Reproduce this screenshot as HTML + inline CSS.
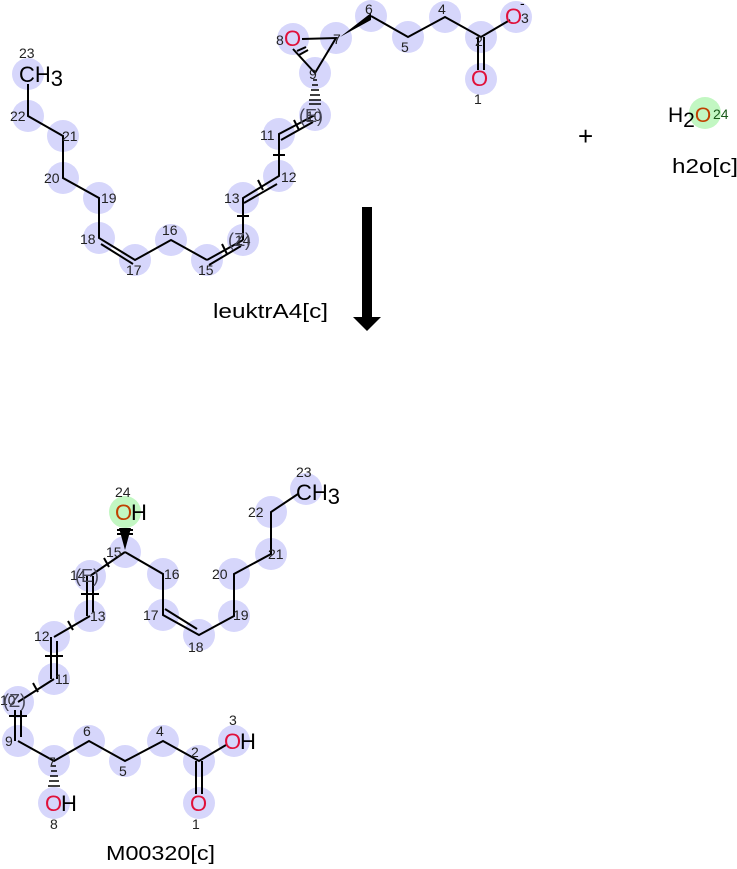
<!DOCTYPE html>
<html><head><meta charset="utf-8"><style>
body{margin:0;background:#fff;width:737px;height:864px;overflow:hidden}
svg text{font-family:"Liberation Sans",sans-serif}
.n{font-size:14px;fill:#222}
.a{font-size:22px}
</style></head><body>
<svg width="737" height="864" viewBox="0 0 737 864" xmlns="http://www.w3.org/2000/svg">
<g fill="#d6d6fb">
<circle cx="371" cy="16" r="16"/><circle cx="336" cy="38" r="16"/><circle cx="293" cy="39" r="16"/>
<circle cx="315" cy="73" r="16"/><circle cx="315" cy="115" r="16"/><circle cx="279" cy="134" r="16"/>
<circle cx="279" cy="176" r="16"/><circle cx="243" cy="198" r="16"/><circle cx="243" cy="240" r="16"/>
<circle cx="207" cy="260" r="16"/><circle cx="171" cy="240" r="16"/><circle cx="135" cy="260" r="16"/>
<circle cx="99" cy="238" r="16"/><circle cx="99" cy="198" r="16"/><circle cx="63" cy="178" r="16"/>
<circle cx="63" cy="136" r="16"/><circle cx="28" cy="116" r="16"/><circle cx="28" cy="74" r="16"/>
<circle cx="408" cy="37" r="16"/><circle cx="445" cy="17" r="16"/><circle cx="481" cy="37" r="16"/>
<circle cx="481" cy="79" r="16"/><circle cx="516" cy="17" r="16"/>
<circle cx="125" cy="552" r="16"/><circle cx="90" cy="576" r="16"/><circle cx="90" cy="616" r="16"/>
<circle cx="54" cy="637" r="16"/><circle cx="54" cy="679" r="16"/><circle cx="18" cy="702" r="16"/>
<circle cx="18" cy="741" r="16"/><circle cx="54" cy="761" r="16"/><circle cx="54" cy="803" r="16"/>
<circle cx="89" cy="741" r="16"/><circle cx="125" cy="761" r="16"/><circle cx="163" cy="741" r="16"/>
<circle cx="199" cy="761" r="16"/><circle cx="199" cy="803" r="16"/><circle cx="234" cy="741" r="16"/>
<circle cx="163" cy="574" r="16"/><circle cx="163" cy="615" r="16"/><circle cx="199" cy="635" r="16"/>
<circle cx="234" cy="616" r="16"/><circle cx="234" cy="574" r="16"/><circle cx="271" cy="554" r="16"/>
<circle cx="271" cy="512" r="16"/><circle cx="306" cy="489" r="16"/>
</g>
<g fill="#c2f7c2"><circle cx="125" cy="512" r="16"/><circle cx="705" cy="113" r="16"/></g>

<g stroke="#000" stroke-width="2" fill="none">
<polyline points="28,84 28,116 63,136 63,178 99,198 99,238 135,260 171,240 207,260"/>
<line x1="101" y1="244" x2="133" y2="264"/>
<line x1="207" y1="260" x2="243" y2="240"/><line x1="209" y1="265" x2="241" y2="246"/>
<polyline points="243,240 243,198 279,176 279,134 315,115"/>
<line x1="244" y1="203" x2="277" y2="184"/><line x1="281" y1="140" x2="313" y2="122"/>
<polyline points="302,39 336,38 315,73 293,49"/>
<polyline points="371,16 408,37 445,17 481,37 510,20"/>
<line x1="478" y1="37" x2="478" y2="70"/><line x1="484" y1="37" x2="484" y2="70"/>
<line x1="237" y1="216" x2="249" y2="216"/><line x1="273" y1="155" x2="285" y2="155"/>
<line x1="222" y1="244" x2="227" y2="254"/><line x1="258" y1="180" x2="263" y2="190"/><line x1="294" y1="120" x2="299" y2="130"/>
<line x1="297" y1="51" x2="306" y2="47"/><line x1="299" y1="55" x2="308" y2="50"/>
<polyline points="125,552 163,574 163,615 199,635 234,616 234,574 271,554 271,512 298,494"/>
<line x1="165" y1="609" x2="197" y2="629"/>
<polyline points="125,552 90,576"/>
<line x1="87" y1="576" x2="87" y2="616"/><line x1="93" y1="576" x2="93" y2="612"/>
<line x1="90" y1="616" x2="54" y2="637"/>
<line x1="51" y1="637" x2="51" y2="679"/><line x1="57" y1="641" x2="57" y2="679"/>
<line x1="54" y1="679" x2="18" y2="702"/>
<line x1="15" y1="710" x2="15" y2="741"/><line x1="21" y1="710" x2="21" y2="737"/>
<polyline points="18,741 54,761 89,741 125,761 163,741 199,761 226,745"/>
<line x1="196" y1="761" x2="196" y2="794"/><line x1="202" y1="761" x2="202" y2="794"/>
<line x1="81" y1="594" x2="99" y2="594"/><line x1="45" y1="656" x2="63" y2="656"/><line x1="9" y1="716" x2="27" y2="716"/>
<line x1="104" y1="558" x2="109" y2="567"/><line x1="68" y1="621" x2="73" y2="630"/><line x1="33" y1="683" x2="38" y2="692"/>
<line x1="117" y1="530" x2="133" y2="530"/><line x1="117" y1="534" x2="133" y2="534"/>
</g>
<polygon points="371,13 371,20 340,37" fill="#000"/>
<polygon points="119,528 131,528 125,550" fill="#000"/>
<g stroke="#000" stroke-width="1.5">
<line x1="313" y1="80" x2="317" y2="80"/><line x1="312" y1="85" x2="318" y2="85"/><line x1="311" y1="90" x2="319" y2="90"/><line x1="310" y1="95" x2="320" y2="95"/><line x1="309" y1="100" x2="321" y2="100"/><line x1="309" y1="104" x2="321" y2="104"/>
<line x1="52" y1="766" x2="56" y2="766"/><line x1="51" y1="771" x2="57" y2="771"/><line x1="50" y1="776" x2="58" y2="776"/><line x1="49" y1="781" x2="59" y2="781"/><line x1="48" y1="786" x2="60" y2="786"/>
</g>

<g class="a">
<text x="19" y="82" fill="#000">CH<tspan dy="4">3</tspan></text>
<text x="284" y="46" fill="#e0103a">O</text>
<text x="471" y="86" fill="#e0103a">O</text>
<text x="505" y="24" fill="#e0103a">O</text>
</g>
<g class="n">
<text x="19" y="58">23</text><text x="10" y="121">22</text><text x="62" y="141">21</text><text x="44" y="183">20</text>
<text x="101" y="203">19</text><text x="80" y="244">18</text><text x="126" y="275">17</text><text x="162" y="235">16</text>
<text x="198" y="275">15</text><text x="224" y="203">13</text><text x="281" y="182">12</text><text x="260" y="140">11</text>
<text x="306" y="121">10</text><text x="235" y="245">14</text><text x="276" y="45">8</text><text x="333" y="44">7</text>
<text x="365" y="14">6</text><text x="401" y="52">5</text><text x="438" y="14">4</text><text x="475" y="46">2</text>
<text x="474" y="104">1</text><text x="521" y="23">3</text><text x="309" y="79">9</text>
</g>
<text x="520" y="8" font-size="14">-</text>
<text x="228" y="246" font-size="18" fill="#445">(Z)</text>
<text x="299" y="122" font-size="18" fill="#445">(E)</text>

<rect x="362" y="207" width="10" height="111" fill="#000"/>
<polygon points="353,317 381,317 367,331" fill="#000"/>
<text x="213" y="318" font-size="20" textLength="115" lengthAdjust="spacingAndGlyphs">leuktrA4[c]</text>
<text x="578" y="145" font-size="26">+</text>

<text x="668" y="122" font-size="21">H<tspan dy="5">2</tspan><tspan dy="-5" fill="#c04000">O</tspan></text>
<text x="713" y="119" font-size="14" fill="#1a5a1a">24</text>
<text x="672" y="173" font-size="20" textLength="66" lengthAdjust="spacingAndGlyphs">h2o[c]</text>

<g class="a">
<text x="296" y="500" fill="#000">CH<tspan dy="4">3</tspan></text>
<text x="115" y="520" fill="#c04000">O</text><text x="131" y="520">H</text>
<text x="45" y="811" fill="#e0103a">O</text><text x="61" y="811">H</text>
<text x="190" y="811" fill="#e0103a">O</text>
<text x="224" y="749" fill="#e0103a">O</text><text x="240" y="749">H</text>
</g>
<g class="n">
<text x="296" y="477">23</text><text x="115" y="497">24</text><text x="248" y="517">22</text><text x="268" y="559">21</text>
<text x="212" y="579">20</text><text x="233" y="620">19</text><text x="188" y="652">18</text><text x="143" y="620">17</text>
<text x="164" y="579">16</text><text x="106" y="557">15</text><text x="90" y="621">13</text><text x="34" y="641">12</text>
<text x="55" y="684">11</text><text x="5" y="746">9</text><text x="48" y="767">7</text><text x="50" y="829">8</text>
<text x="83" y="736">6</text><text x="119" y="776">5</text><text x="156" y="736">4</text><text x="191" y="757">2</text>
<text x="192" y="829">1</text><text x="229" y="725">3</text><text x="70" y="580">14</text><text x="0" y="705">10</text>
</g>
<text x="75" y="582" font-size="18" fill="#445">(E)</text>
<text x="3" y="707" font-size="18" fill="#445">(Z)</text>
<text x="106" y="860" font-size="20" textLength="109" lengthAdjust="spacingAndGlyphs">M00320[c]</text>
</svg>
</body></html>
